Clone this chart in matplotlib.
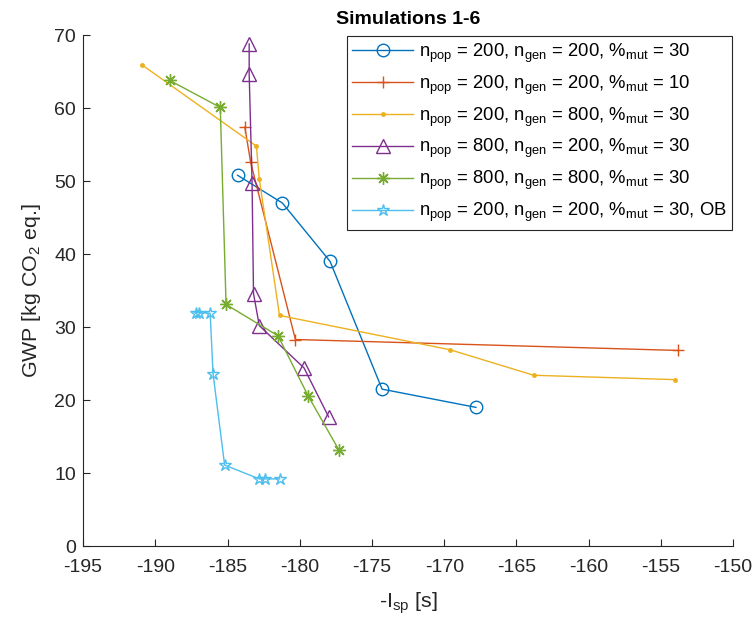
"""Simulations 1-6: GWP vs -Isp for different GA settings."""
import matplotlib
matplotlib.use('Agg')
import matplotlib.pyplot as plt

plt.rcParams['font.family'] = ['Liberation Sans', 'DejaVu Sans']
plt.rcParams['mathtext.default'] = 'regular'
plt.rcParams['axes.unicode_minus'] = False

# data
isp_1 = [-184.3, -181.2, -177.9, -174.3, -167.8]
gwp_1 = [50.8, 47.0, 39.0, 21.5, 19.0]

isp_2 = [-183.8, -183.4, -180.3, -153.8]
gwp_2 = [57.4, 52.6, 28.3, 26.8]

isp_3 = [-190.9, -183.0, -182.8, -181.4, -169.6, -163.8, -154.0]
gwp_3 = [65.9, 54.8, 50.3, 31.6, 26.9, 23.4, 22.8]

isp_4 = [-183.5, -183.5, -183.3, -183.2, -182.8, -179.7, -178.0]
gwp_4 = [68.8, 64.7, 49.8, 34.6, 30.2, 24.4, 17.7]

isp_5 = [-189.0, -185.5, -185.1, -181.5, -179.4, -177.3]
gwp_5 = [63.8, 60.1, 33.1, 28.8, 20.5, 13.2]

isp_6 = [-187.2, -187.0, -186.2, -186.0, -185.2, -182.8, -182.4, -181.4]
gwp_6 = [32.0, 32.0, 31.9, 23.6, 11.1, 9.2, 9.2, 9.2]

labels = [
    r'n$_{pop}$ = 200, n$_{gen}$ = 200, %$_{mut}$ = 30',
    r'n$_{pop}$ = 200, n$_{gen}$ = 200, %$_{mut}$ = 10',
    r'n$_{pop}$ = 200, n$_{gen}$ = 800, %$_{mut}$ = 30',
    r'n$_{pop}$ = 800, n$_{gen}$ = 200, %$_{mut}$ = 30',
    r'n$_{pop}$ = 800, n$_{gen}$ = 800, %$_{mut}$ = 30',
    r'n$_{pop}$ = 200, n$_{gen}$ = 200, %$_{mut}$ = 30, OB',
]

# MATLAB default colour order
colors = ['#0072BD', '#D95319', '#EDB120', '#7E2F8E', '#77AC30', '#4DBEEE']
markers = ['o', '+', '.', '^', (8, 2, 0), '*']
msizes = [9, 9, 5, 10, 9, 9]


def main():
    fig = plt.figure(figsize=(7.55, 6.17), dpi=100)
    ax = fig.add_axes([0.110, 0.115, 0.861, 0.828])

    series = [(isp_1, gwp_1), (isp_2, gwp_2), (isp_3, gwp_3),
              (isp_4, gwp_4), (isp_5, gwp_5), (isp_6, gwp_6)]
    for (x, y), c, m, ms, lab in zip(series, colors, markers, msizes, labels):
        ax.plot(x, y, color=c, marker=m, markersize=ms, linewidth=1.0,
                markerfacecolor='none' if m != '.' else c,
                markeredgecolor=c, markeredgewidth=1.0, label=lab)

    ax.set_xlim(-195, -150)
    ax.set_ylim(0, 70)
    ax.set_xticks(range(-195, -149, 5))
    ax.set_yticks(range(0, 71, 10))
    ax.tick_params(direction='in', length=5, labelsize=14, colors='#262626',
                   labelcolor='#262626')
    ax.tick_params(axis='x', pad=9)
    ax.tick_params(axis='y', pad=5)
    for s in ['top', 'right']:
        ax.spines[s].set_visible(False)
    for s in ['left', 'bottom']:
        ax.spines[s].set_color('#262626')
        ax.spines[s].set_linewidth(0.8)

    ax.set_xlabel(r'-I$_{sp}$ [s]', fontsize=15.4, color='#262626', labelpad=11)
    ax.set_ylabel(r'GWP [kg CO$_2$ eq.]', fontsize=15.4, color='#262626',
                  labelpad=8)
    ax.set_title('Simulations 1-6', fontsize=14, fontweight='bold', pad=8)

    leg = ax.legend(loc='upper right', fontsize=13.3, handlelength=3.3,
                    borderaxespad=0.05, labelspacing=0.47, handletextpad=0.3,
                    fancybox=False, framealpha=1, borderpad=0.3)
    leg.get_frame().set_edgecolor('#262626')
    leg.get_frame().set_linewidth(0.8)

    fig.savefig('out.png', dpi=100)


if __name__ == '__main__':
    main()
